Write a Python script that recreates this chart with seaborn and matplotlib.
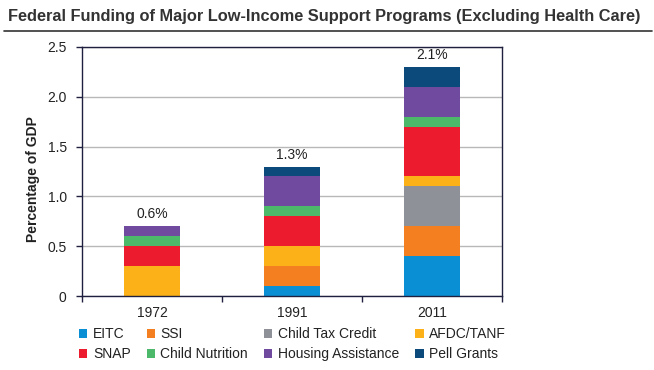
import matplotlib
matplotlib.use("Agg")
import matplotlib.pyplot as plt
from matplotlib.lines import Line2D
from matplotlib.patches import Patch
import seaborn as sns
import pandas as pd
import numpy as np

years = ["1972", "1991", "2011"]
programs = ["EITC", "SSI", "Child Tax Credit", "AFDC/TANF",
            "SNAP", "Child Nutrition", "Housing Assistance", "Pell Grants"]
eitc = [0.0, 0.1, 0.4]
ssi = [0.0, 0.2, 0.3]
ctc = [0.0, 0.0, 0.4]
afdc = [0.3, 0.2, 0.1]
snap = [0.2, 0.3, 0.5]
child_nutrition = [0.1, 0.1, 0.1]
housing = [0.1, 0.3, 0.3]
pell = [0.0, 0.1, 0.2]
total_labels = ["0.6%", "1.3%", "2.1%"]
colors = ["#0a8fd4", "#f47f20", "#8f9198", "#fbb117",
          "#ec1c2e", "#4cb96a", "#6f4a9e", "#0b4a7a"]

series = [eitc, ssi, ctc, afdc, snap, child_nutrition, housing, pell]

sns.set_theme(style="white")
plt.rcParams['font.family'] = ['Liberation Sans', 'DejaVu Sans']

fig = plt.figure(figsize=(6.54, 3.70), dpi=100)
ax = fig.add_axes([82/654, 1-296/370, 420/654, 249/370])

bottom = np.zeros(len(years))
for name, vals, col in zip(programs, series, colors):
    df = pd.DataFrame({"year": years, "value": vals})
    sns.barplot(data=df, x="year", y="value", order=years, color=col,
                width=0.4, bottom=bottom.copy(), ax=ax, saturation=1,
                edgecolor="none", linewidth=0)
    bottom = bottom + np.array(vals)

for i, (tot, lab) in enumerate(zip(bottom, total_labels)):
    ax.text(i, tot + 0.05, lab, ha="center", va="bottom", fontsize=10, color="#222222")

ax.set_xlim(-0.5, 2.5)
ax.set_ylim(0, 2.5)
ax.set_yticks([0, 0.5, 1.0, 1.5, 2.0, 2.5])
ax.set_yticklabels(["0", "0.5", "1.0", "1.5", "2.0", "2.5"])
ax.yaxis.grid(True, color="#b8b8b8", linewidth=1)
ax.set_axisbelow(True)
ax.set_xticks([0, 1, 2])
ax.set_xticklabels(years)
ax.set_xticks([-0.5, 0.5, 1.5, 2.5], minor=True)
ax.tick_params(axis="x", which="major", length=0, pad=7, labelsize=10, labelcolor="#222222")
ax.tick_params(axis="x", which="minor", length=4, width=1, color="#1f1f3f", direction="out", bottom=True)
ax.tick_params(axis="y", length=4, width=1, color="#1f1f3f", direction="out", left=True, pad=7,
               labelsize=10, labelcolor="#222222")
for s in ax.spines.values():
    s.set_visible(True)
    s.set_color("#1f1f3f")
    s.set_linewidth(1)
ax.set_xlabel("")
ax.set_ylabel("Percentage of GDP", fontsize=10, fontweight="bold", color="#222222")
ax.yaxis.set_label_coords(-0.1, 0.47)

# legend: row-major ordering with 4 columns
order = [0, 4, 1, 5, 2, 6, 3, 7]
handles = [Patch(facecolor=colors[k], edgecolor="none") for k in order]
labels = [programs[k] for k in order]
fig.legend(handles, labels, ncol=4, loc="upper left", bbox_to_anchor=(79/654, 1-327/370),
           frameon=False, fontsize=10, handlelength=0.6, handleheight=0.6,
           handletextpad=0.4, columnspacing=1.15, labelspacing=0.45, borderaxespad=0,
           borderpad=0, labelcolor="#222222")

fig.text(8/654, 1-17/370, "Federal Funding of Major Low-Income Support Programs (Excluding Health Care)",
         ha="left", va="center", fontsize=11.8, fontweight="bold", color="#333333")
fig.add_artist(Line2D([4/654, 652/654], [1-31/370, 1-31/370], color="#333333", linewidth=1.2))

fig.savefig("out.png", dpi=100)
